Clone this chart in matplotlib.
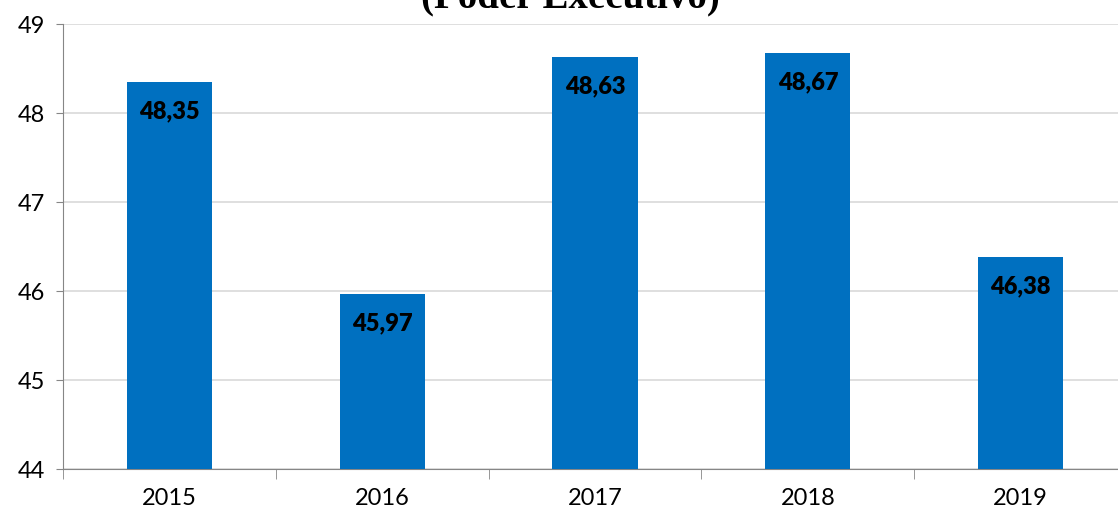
import matplotlib.pyplot as plt

# values
years = ['2015', '2016', '2017', '2018', '2019']
values = [48.35, 45.97, 48.63, 48.67, 46.38]
labels = ['48,35', '45,97', '48,63', '48,67', '46,38']
y_ticks = [44, 45, 46, 47, 48, 49]

W, H = 1118, 513
fig = plt.figure(figsize=(W / 100, H / 100), dpi=100)
ax = fig.add_axes([63 / W, 44 / H, 1064 / W, 445 / H])

bar_color = '#0070c0'
x = list(range(len(years)))
ax.bar(x, [v - 44 for v in values], bottom=44, width=0.4, color=bar_color, zorder=3)

for xi, v, lab in zip(x, values, labels):
    ax.text(xi, v - 0.33, lab, ha='center', va='center', fontsize=17,
            fontweight='heavy', family='Lato', color='black', zorder=4)

ax.set_xlim(-0.5, len(years) - 0.5)
ax.set_ylim(44, 49)
ax.set_yticks(y_ticks)
ax.set_yticklabels([str(t) for t in y_ticks], fontsize=17, family='Lato')
ax.set_xticks(x)
ax.set_xticklabels(years, fontsize=17, family='Lato')
ax.tick_params(axis='x', length=0, pad=14)
ax.set_xticks([i - 0.5 for i in range(len(years) + 1)], minor=True)
ax.tick_params(axis='x', which='minor', length=7, color='#868686', direction='out')
ax.tick_params(axis='y', length=5, color='#868686', direction='out', pad=8)

ax.grid(axis='y', color='#d9d9d9', linewidth=1.2, zorder=0)
for s in ['top', 'right']:
    ax.spines[s].set_visible(False)
ax.spines['left'].set_color('#868686')
ax.spines['bottom'].set_color('#868686')

# title: only its last line shows at the top edge, as in the source image
fig.text(570 / W, 1.0 - 16 / H, '(Poder Executivo)', ha='center', va='bottom',
         fontsize=28, fontweight='bold', family='Liberation Serif')

fig.savefig('out.png', dpi=100)
